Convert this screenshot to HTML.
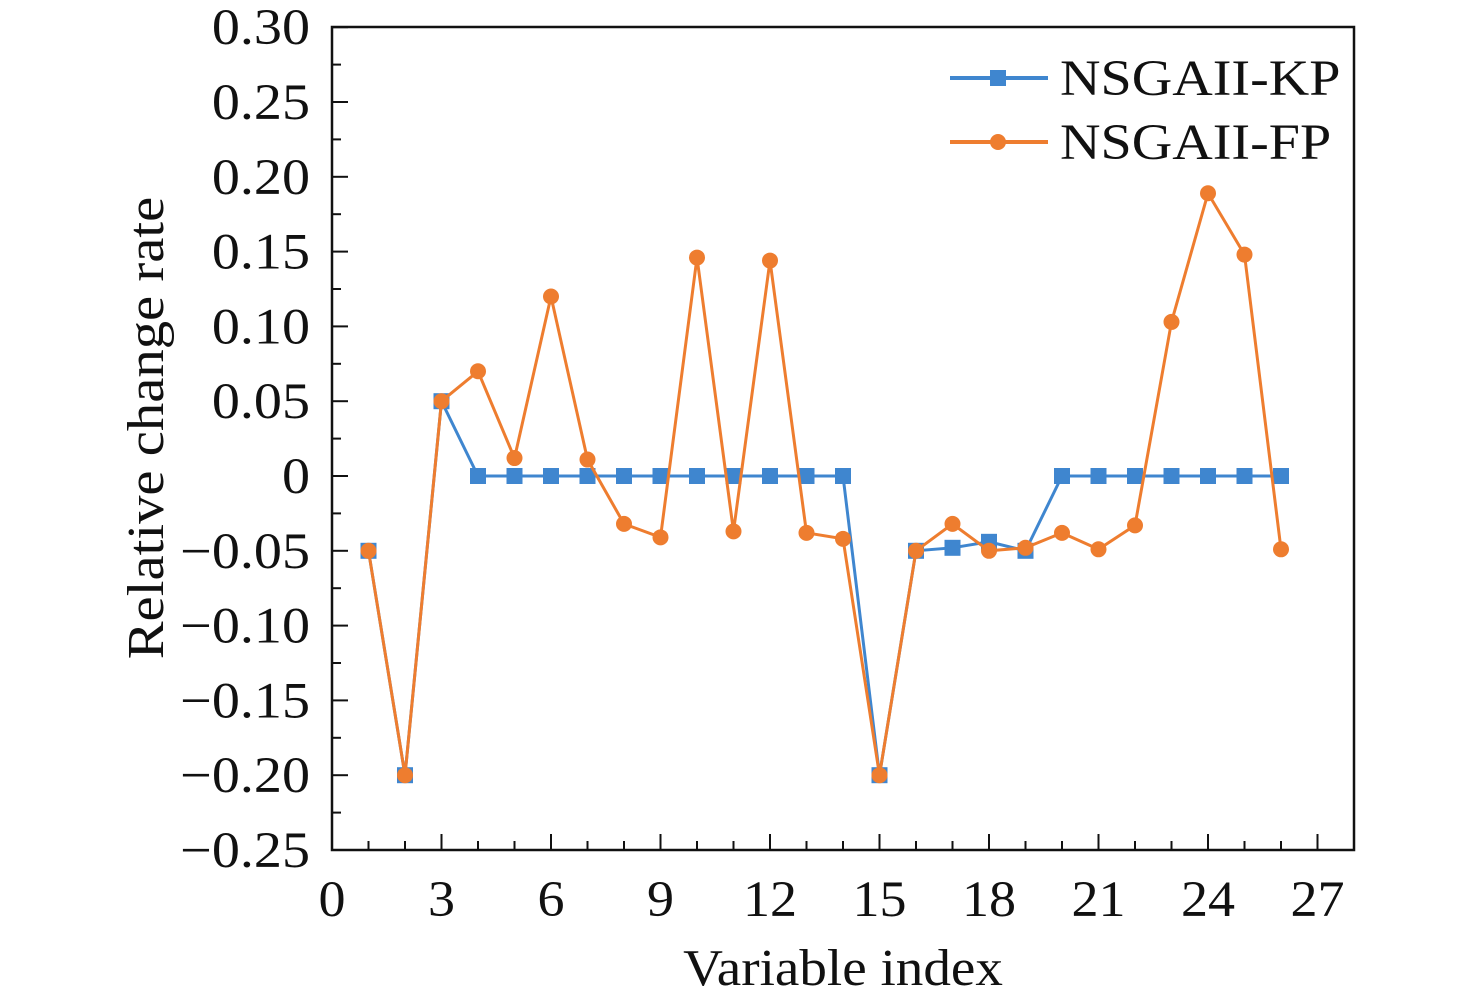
<!DOCTYPE html>
<html><head><meta charset="utf-8"><style>
html,body{margin:0;padding:0;background:#fff;}
svg text{font-family:"Liberation Serif",serif;fill:#111;}
</style></head><body>
<svg id="s" width="1476" height="1002" xmlns="http://www.w3.org/2000/svg"></svg>
<script>
const s=document.getElementById('s');
const X=v=>332+v*36.5, Y=v=>476-v*1496;
let h='';
const T=(x,y,sz,anchor,txt,sx)=>`<text transform="translate(${x},${y}) scale(${sx},1)" font-size="${sz}" text-anchor="${anchor}">${txt}</text>`;
h+=`<rect x="332" y="27" width="1022" height="823" fill="none" stroke="#111" stroke-width="2.5"/>`;
for(let i=0;i<=11;i++){const v=0.30-i*0.05,y=Y(v);
 h+=`<line x1="332" y1="${y}" x2="348" y2="${y}" stroke="#111" stroke-width="2"/>`;
 if(i<11){const ym=Y(v-0.025);h+=`<line x1="332" y1="${ym}" x2="341" y2="${ym}" stroke="#111" stroke-width="2"/>`;}
 let lab=Math.abs(v)<1e-9?'0':(v<0?'\u2212':'')+Math.abs(v).toFixed(2);
 h+=T(310,y+17,51,'end',lab,1.1);}
for(let i=0;i<=27;i++){const x=X(i);const maj=i%3==0;
 h+=`<line x1="${x}" y1="850" x2="${x}" y2="${maj?834:841}" stroke="#111" stroke-width="2"/>`;
 if(maj)h+=T(x,916,51,'middle',i,1.06);}
h+=T(843,985,52,'middle','Variable index',1.06);
h+=`<text transform="translate(163,428) rotate(-90) scale(1.09,1)" font-size="52" text-anchor="middle">Relative change rate</text>`;
const kp=[-0.05,-0.2,0.05,0,0,0,0,0,0,0,0,0,0,0,-0.2,-0.05,-0.048,-0.044,-0.05,0,0,0,0,0,0,0];
const fp=[-0.05,-0.2,0.05,0.07,0.012,0.12,0.011,-0.032,-0.041,0.146,-0.037,0.144,-0.038,-0.042,-0.2,-0.05,-0.032,-0.05,-0.048,-0.038,-0.049,-0.033,0.103,0.189,0.148,-0.049];
const blue='#3f86cf',orange='#ee7d2f';
h+=`<polyline fill="none" stroke="${blue}" stroke-width="3" points="${kp.map((v,i)=>X(i+1)+','+Y(v)).join(' ')}"/>`;
kp.forEach((v,i)=>h+=`<rect x="${X(i+1)-8}" y="${Y(v)-8}" width="16" height="16" fill="${blue}"/>`);
h+=`<polyline fill="none" stroke="${orange}" stroke-width="3" points="${fp.map((v,i)=>X(i+1)+','+Y(v)).join(' ')}"/>`;
fp.forEach((v,i)=>h+=`<circle cx="${X(i+1)}" cy="${Y(v)}" r="8" fill="${orange}"/>`);
h+=`<line x1="950" y1="78" x2="1048" y2="78" stroke="${blue}" stroke-width="4"/><rect x="990" y="70" width="16" height="16" fill="${blue}"/>`;
h+=T(1060,95,51,'start','NSGAII-KP',1.1);
h+=`<line x1="950" y1="142" x2="1048" y2="142" stroke="${orange}" stroke-width="4"/><circle cx="998" cy="142" r="8" fill="${orange}"/>`;
h+=T(1060,159,51,'start','NSGAII-FP',1.1);
s.innerHTML=h;
</script>
</body></html>
